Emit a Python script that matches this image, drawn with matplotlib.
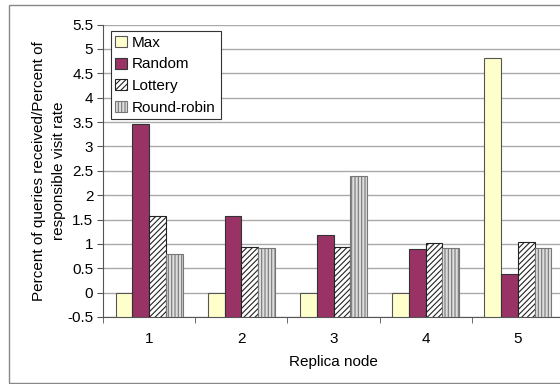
import matplotlib
matplotlib.use('Agg')
import matplotlib.pyplot as plt
import numpy as np
from matplotlib.patches import Rectangle

plt.rcParams['font.family'] = ['Liberation Sans', 'DejaVu Sans']
plt.rcParams['font.size'] = 11
plt.rcParams['hatch.linewidth'] = 0.8

nodes = ['1', '2', '3', '4', '5']
series = ['Max', 'Random', 'Lottery', 'Round-robin']
max_vals = [0, 0, 0, 0, 4.82]
random_vals = [3.45, 1.57, 1.19, 0.89, 0.39]
lottery_vals = [1.58, 0.94, 0.93, 1.02, 1.03]
rr_vals = [0.80, 0.91, 2.40, 0.91, 0.91]

yticks = [-0.5, 0, 0.5, 1, 1.5, 2, 2.5, 3, 3.5, 4, 4.5, 5, 5.5]
ytick_labels = ['-0.5', '0', '0.5', '1', '1.5', '2', '2.5', '3', '3.5', '4', '4.5', '5', '5.5']
base = -0.5

fig = plt.figure(figsize=(5.6, 3.84), dpi=100)
# outer chart frame (Excel chart area)
fig.patches.append(Rectangle((9/560, 1 - 383/384), 1.2, 378/384, transform=fig.transFigure,
                             fill=False, edgecolor='#888888', linewidth=1))

ax = fig.add_axes([103/560, 1 - 317/384, 461/560, 292.5/384])

x = np.arange(len(nodes))
w = 0.182
styles = [
    dict(color='#FFFFCC', edgecolor='#555555', hatch=None),
    dict(color='#993366', edgecolor='#333333', hatch=None),
    dict(color='white', edgecolor='#222222', hatch='//////'),
    dict(color='#DDDDDD', edgecolor='#777777', hatch='|||||'),
]
all_vals = [max_vals, random_vals, lottery_vals, rr_vals]
for i, (name, vals, st) in enumerate(zip(series, all_vals, styles)):
    v = np.array(vals)
    ax.bar(x + (i - 1.5) * w, v - base, bottom=base, width=w, color=st['color'],
           edgecolor=st['edgecolor'], hatch=st['hatch'], linewidth=0.8, label=name, zorder=3)

ax.set_xlim(-0.5, len(nodes) - 0.5)
ax.set_ylim(-0.5, 5.5)
ax.set_yticks(yticks)
ax.set_yticklabels(ytick_labels)
ax.set_xticks(x)
ax.set_xticklabels(nodes)
ax.set_xticks(np.arange(-0.5, len(nodes), 1), minor=True)
ax.tick_params(axis='x', which='major', length=0, pad=11)
ax.tick_params(axis='x', which='minor', length=4, direction='out', color='#555555')
ax.tick_params(axis='y', length=4, direction='out', color='#555555', pad=3)

ax.yaxis.grid(True, color='#aaaaaa', linewidth=1, zorder=0)
ax.set_axisbelow(True)
for s in ['top', 'right']:
    ax.spines[s].set_visible(False)
ax.spines['left'].set_color('#555555')
ax.spines['bottom'].set_color('#555555')

ax.set_xlabel('Replica node', labelpad=6)
ax.set_ylabel('Percent of queries received/Percent of\nresponsible visit rate', labelpad=1,
              linespacing=1.55)

leg = ax.legend(loc='upper left', bbox_to_anchor=(0.017, 0.977), frameon=True, fancybox=False,
                edgecolor='#333333', framealpha=1, handlelength=0.75, handleheight=0.75,
                handletextpad=0.35, labelspacing=0.5, borderpad=0.3, borderaxespad=0)
leg.get_frame().set_linewidth(0.8)

fig.savefig('out.png', dpi=100)
